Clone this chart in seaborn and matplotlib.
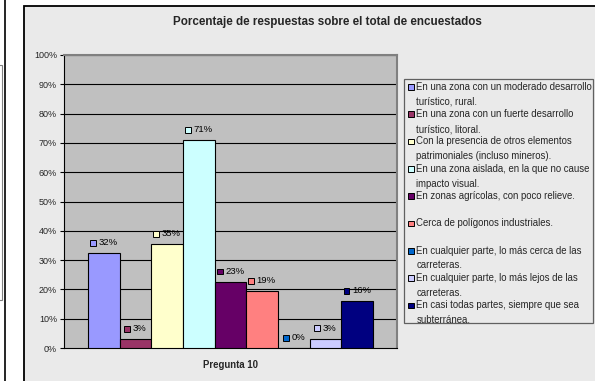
import matplotlib
matplotlib.use("Agg")
import matplotlib.pyplot as plt
import seaborn as sns
import pandas as pd
from matplotlib.patches import Rectangle
from matplotlib.lines import Line2D
from matplotlib.offsetbox import DrawingArea, TextArea, HPacker, AnnotationBbox

# ---------------- data ----------------
title = "Porcentaje de respuestas sobre el total de encuestados"
question = "Pregunta 10"
options = [
    "En una zona con un moderado desarrollo\nturístico, rural.",
    "En una zona con un fuerte desarrollo\nturístico, litoral.",
    "Con la presencia de otros elementos\npatrimoniales (incluso mineros).",
    "En una zona aislada, en la que no cause\nimpacto visual.",
    "En zonas agrícolas, con poco relieve.",
    "Cerca de polígonos industriales.",
    "En cualquier parte, lo más cerca de las\ncarreteras.",
    "En cualquier parte, lo más lejos de las\ncarreteras.",
    "En casi todas partes, siempre que sea\nsubterránea.",
]
values = [32.3, 3.1, 35.4, 71.0, 22.6, 19.4, 0.0, 3.2, 16.1]
colors = ["#9999FF", "#993366", "#FFFFCC", "#CCFFFF", "#660066",
          "#FF8080", "#0066CC", "#CCCCFF", "#000080"]
yticks = [0, 10, 20, 30, 40, 50, 60, 70, 80, 90, 100]

df = pd.DataFrame({"pregunta": [question] * len(options),
                   "opcion": options, "valor": values})

# ---------------- figure ----------------
sns.set_style("white")
plt.rcParams["font.family"] = ["Liberation Sans", "DejaVu Sans"]

W, H = 595, 381
fig = plt.figure(figsize=(W / 100, H / 100), dpi=100, facecolor="white")


def fx(x):
    return x / W


def fy(y):
    return 1 - y / H


# left fragment of neighbouring chart
fig.add_artist(Rectangle((fx(-5), fy(300)), fx(7), (300 - 65) / H,
                         transform=fig.transFigure, facecolor="white",
                         edgecolor="#808080", lw=0.8))
fig.add_artist(Line2D([fx(4.5), fx(4.5)], [0, 1], transform=fig.transFigure,
                      color="black", lw=1.2))

# chart area
fig.add_artist(Rectangle((fx(24), fy(400)), fx(600 - 24), (400 - 6) / H,
                         transform=fig.transFigure, facecolor="#EAEAEA",
                         edgecolor="black", lw=1.3, zorder=0))

ax = fig.add_axes([fx(64), fy(348), (397 - 64) / W, (348 - 55) / H])
ax.set_facecolor("#C0C0C0")

sns.barplot(data=df, x="pregunta", y="valor", hue="opcion",
            hue_order=options, palette=colors, ax=ax, legend=False,
            width=0.856, edgecolor="black", linewidth=0.8, saturation=1,
            zorder=3)

ax.set_xlim(-0.5, 0.5)
ax.set_ylim(0, 100)
ax.set_yticks(yticks)
ax.set_yticklabels([f"{t}%" for t in yticks], fontsize=6.5)
ax.tick_params(axis="y", length=3, width=0.8, color="black", pad=2,
               direction="out", left=True)
ax.tick_params(axis="x", length=0, labelbottom=False)
ax.set_xlabel("")
ax.set_ylabel("")
for t in yticks[1:]:
    ax.axhline(t, color="black", lw=0.8, zorder=1)
for s in ["top", "right"]:
    ax.spines[s].set_color("#808080")
    ax.spines[s].set_linewidth(1.5)
for s in ["left", "bottom"]:
    ax.spines[s].set_color("black")
    ax.spines[s].set_linewidth(0.8)

# data labels
for patch, val, col in zip(ax.patches, values, colors):
    xc = patch.get_x() + patch.get_width() / 2
    da = DrawingArea(4.5, 4.5, 0, 0)
    da.add_artist(Rectangle((0, 0), 4.2, 4.2, facecolor=col,
                            edgecolor="black", lw=0.7))
    ta = TextArea(f"{val:.0f}%", textprops=dict(size=6.8, color="black"))
    pack = HPacker(children=[da, ta], align="center", pad=0, sep=1.5)
    ab = AnnotationBbox(pack, (xc, patch.get_height()), xybox=(0, 7.5),
                        xycoords="data", boxcoords="offset points",
                        frameon=False, box_alignment=(0.5, 0.5), zorder=5)
    ax.add_artist(ab)

# title and axis title
fig.text(fx(327), fy(22), title, ha="center", va="center",
         fontsize=8.4, fontweight="bold")
fig.text(fx(230.5), fy(365), question, ha="center", va="center",
         fontsize=6.9, fontweight="bold")

# legend (manual, Excel style)
fig.add_artist(Rectangle((fx(404), fy(323)), fx(593 - 404), (323 - 79) / H,
                         transform=fig.transFigure, facecolor="#EAEAEA",
                         edgecolor="#606060", lw=0.9, zorder=2))
for i, (lab, col) in enumerate(zip(options, colors)):
    y0 = 86.7 + i * 27.3
    fig.add_artist(Rectangle((fx(408), fy(y0 + 3)), fx(5.5), 5.5 / H,
                             transform=fig.transFigure, facecolor=col,
                             edgecolor="black", lw=0.7, zorder=3))
    for j, line in enumerate(lab.split("\n")):
        fig.text(fx(416.5), fy(y0 + j * 15), line, ha="left", va="center",
                 fontsize=6.9, zorder=3)

fig.savefig("out.png", dpi=100, facecolor="white")
